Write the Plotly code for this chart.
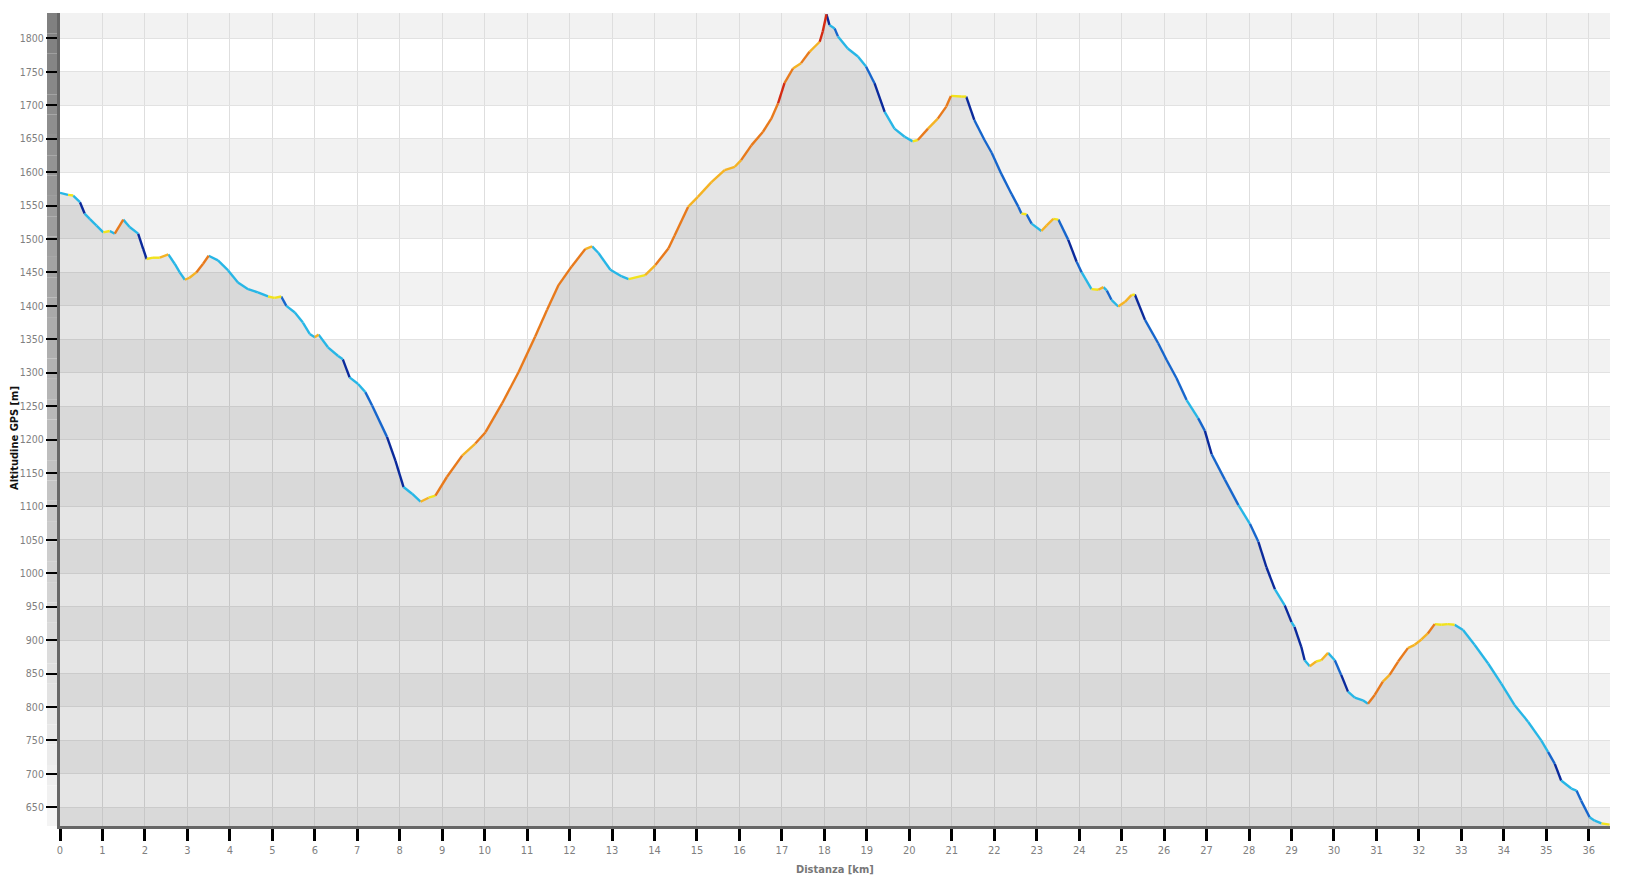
import plotly.graph_objects as go

# ── Track profile ────────────────────────────────────────────────────────────
dist_km = [
    0.00, 0.19, 0.31, 0.47, 0.58, 0.70, 0.86, 1.02, 1.17, 1.29, 1.49, 1.64, 1.84, 1.96,
    2.04, 2.19, 2.35, 2.55, 2.70, 2.82, 2.94, 3.05, 3.21, 3.37, 3.50, 3.72, 3.96, 4.19,
    4.43, 4.66, 4.90, 5.05, 5.21, 5.33, 5.53, 5.72, 5.88, 6.00, 6.09, 6.31, 6.55, 6.66,
    6.82, 7.02, 7.19, 7.35, 7.70, 7.90, 8.09, 8.29, 8.49, 8.68, 8.84, 9.11, 9.47, 9.78,
    10.02, 10.41, 10.80, 11.19, 11.47, 11.74, 12.05, 12.37, 12.53, 12.68, 12.96, 13.23,
    13.39, 13.78, 14.02, 14.33, 14.47, 14.79, 15.02, 15.34, 15.65, 15.89, 16.04, 16.28,
    16.55, 16.75, 16.91, 17.06, 17.26, 17.45, 17.65, 17.89, 17.96, 18.05, 18.12, 18.24,
    18.32, 18.55, 18.79, 18.98, 19.18, 19.42, 19.65, 19.89, 20.08, 20.20, 20.44, 20.67,
    20.87, 20.98, 21.22, 21.34, 21.53, 21.77, 21.94, 22.17, 22.41, 22.57, 22.64, 22.76,
    22.88, 23.11, 23.23, 23.39, 23.51, 23.74, 23.94, 24.06, 24.29, 24.45, 24.57, 24.65,
    24.76, 24.92, 25.08, 25.23, 25.31, 25.55, 25.86, 26.06, 26.29, 26.53, 26.80, 26.96,
    27.12, 27.43, 27.75, 28.02, 28.22, 28.41, 28.61, 28.84, 29.00, 29.07, 29.23, 29.31,
    29.43, 29.58, 29.70, 29.86, 30.02, 30.17, 30.33, 30.49, 30.68, 30.80, 30.96, 31.15,
    31.31, 31.51, 31.74, 31.90, 32.06, 32.21, 32.37, 32.53, 32.68, 32.84, 33.04, 33.31,
    33.63, 33.94, 34.25, 34.57, 34.88, 35.04, 35.20, 35.35, 35.59, 35.71, 35.82, 36.02,
    36.14, 36.30, 36.49,
]
alt_m = [
    1569, 1566, 1565, 1555, 1538, 1530, 1520, 1510, 1512, 1508, 1529, 1518, 1508, 1485,
    1470, 1472, 1472, 1477, 1463, 1450, 1439, 1442, 1450, 1463, 1475, 1468, 1453, 1435,
    1425, 1420, 1414, 1412, 1414, 1400, 1390, 1375, 1358, 1353, 1357, 1338, 1325, 1320,
    1293, 1283, 1271, 1251, 1204, 1168, 1129, 1119, 1107, 1113, 1116, 1144, 1176, 1194,
    1211, 1254, 1301, 1354, 1394, 1431, 1459, 1485, 1489, 1479, 1454, 1444,
    1440, 1446, 1461, 1486, 1505, 1548, 1563, 1585, 1603, 1608, 1618, 1640,
    1660, 1680, 1703, 1733, 1755, 1763, 1780, 1795, 1810, 1836, 1820, 1815,
    1803, 1785, 1773, 1758, 1733, 1690, 1665, 1653, 1646, 1648, 1665, 1680,
    1698, 1714, 1713, 1713, 1678, 1648, 1629, 1597, 1567, 1548, 1538, 1537,
    1523, 1512, 1520, 1530, 1529, 1499, 1466, 1450, 1425, 1424, 1428, 1423,
    1409, 1399, 1406, 1416, 1417, 1379, 1344, 1319, 1292, 1259, 1232, 1213,
    1178, 1140, 1102, 1074, 1047, 1009, 976, 952, 927, 920, 890, 870,
    861, 868, 870, 881, 870, 848, 823, 814, 810, 805, 818, 838,
    848, 868, 888, 893, 901, 910, 924, 923, 924, 923, 915, 893,
    865, 835, 803, 778, 750, 733, 715, 690, 678, 675, 660, 635,
    630, 626, 624,
]

x_ticks = list(range(0, 37))
y_ticks = list(range(650, 1801, 50))

X_RANGE = [0, 36.5]
Y_RANGE = [622, 1838]

# slope classes in % -> colour (jet-like, as in the source app)
SLOPE_BINS = [
    (-999, -15, "#0b2a9c"),
    (-15, -11, "#1766cc"),
    (-11, -1.5, "#27b6e6"),
    (-1.5, 2, "#f2e31c"),
    (2, 7, "#f5b324"),
    (7, 15, "#e87a1c"),
    (15, 999, "#d42a12"),
]

_FONT = "DejaVu Sans Condensed, DejaVu Sans, sans-serif"
_TICK_GREY = "#7f7f7f"

fig = go.Figure()

# gray area under the profile
fig.add_trace(go.Scatter(
    x=dist_km, y=alt_m, mode="lines", fill="tozeroy",
    fillcolor="rgba(0,0,0,0.10)", line={"width": 0, "color": "rgba(0,0,0,0)"},
    hoverinfo="skip", showlegend=False,
))

# profile line, coloured segment by segment according to slope
for lo, hi, color in SLOPE_BINS:
    xs, ys = [], []
    for i in range(len(dist_km) - 1):
        dx = dist_km[i + 1] - dist_km[i]
        slope = (alt_m[i + 1] - alt_m[i]) / (dx * 1000) * 100
        if lo <= slope < hi:
            xs += [dist_km[i], dist_km[i + 1], None]
            ys += [alt_m[i], alt_m[i + 1], None]
    if xs:
        fig.add_trace(go.Scatter(
            x=xs, y=ys, mode="lines",
            line={"color": color, "width": 2.4},
            hoverinfo="skip", showlegend=False, cliponaxis=False,
        ))

# alternating 50 m bands
shapes = []
for v in range(600, 1850, 50):
    if (v // 50) % 2 == 0:
        y0, y1 = max(v, Y_RANGE[0]), min(v + 50, Y_RANGE[1])
        if y1 > y0:
            shapes.append(dict(
                type="rect", xref="x", yref="y", x0=X_RANGE[0], x1=X_RANGE[1],
                y0=y0, y1=y1, fillcolor="#f2f2f2", line={"width": 0}, layer="below",
            ))

# shaded strip left of the y axis (dark at top, fading to light)
n_steps = 40
for k in range(n_steps):
    t = k / (n_steps - 1)
    g = int(0x80 + (0xf4 - 0x80) * t)
    shapes.append(dict(
        type="rect", xref="paper", yref="paper", xsizemode="pixel", xanchor=0,
        x0=-13, x1=-1, y0=1 - (k + 1) / n_steps, y1=1 - k / n_steps,
        fillcolor=f"rgb({g},{g},{g})", line={"width": 0}, layer="below",
    ))

fig.update_layout(
    width=1638, height=877,
    margin={"l": 60, "r": 28, "t": 13, "b": 51},
    paper_bgcolor="white", plot_bgcolor="white",
    font={"family": _FONT, "size": 11, "color": _TICK_GREY},
    shapes=shapes,
    showlegend=False,
    xaxis={
        "range": X_RANGE, "tickvals": x_ticks,
        "showgrid": True, "gridcolor": "#dedede", "gridwidth": 1,
        "zeroline": False,
        "showline": True, "linecolor": "#666666", "linewidth": 3,
        "ticks": "outside", "ticklen": 12, "tickwidth": 3, "tickcolor": "#000000",
        "tickfont": {"size": 11, "color": _TICK_GREY},
    },
    yaxis={
        "range": Y_RANGE, "tickvals": y_ticks,
        "showgrid": True, "gridcolor": "#e2e2e2", "gridwidth": 1,
        "zeroline": False,
        "showline": True, "linecolor": "#666666", "linewidth": 3,
        "ticks": "outside", "ticklen": 11, "tickwidth": 2, "tickcolor": "#000000",
        "tickfont": {"size": 10.5, "color": _TICK_GREY},
    },
    annotations=[
        dict(
            text="<b>Altitudine GPS [m]</b>", textangle=-90,
            xref="paper", yref="paper", x=-46 / 1550, y=(826 - 438) / 813,
            xanchor="center", yanchor="middle", showarrow=False,
            font={"family": _FONT, "size": 11, "color": "#111111"},
        ),
        dict(
            text="<b>Distanza [km]</b>",
            xref="paper", yref="paper", x=0.5, y=-(869 - 826) / 813,
            xanchor="center", yanchor="middle", showarrow=False,
            font={"family": _FONT, "size": 11, "color": "#777777"},
        ),
    ],
)

fig.write_html(
    "out.html",
    config={"displayModeBar": False},
    post_script="document.body.style.margin='0';document.body.style.overflow='hidden';",
)
